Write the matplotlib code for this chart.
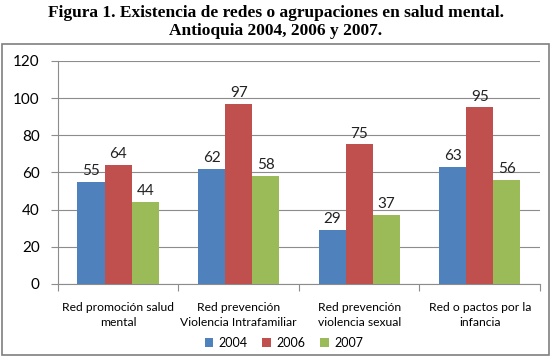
import numpy as np
import matplotlib
matplotlib.use('Agg')
from matplotlib import pyplot as plt
from matplotlib.patches import Rectangle

categorias = ['Red promoción salud\nmental', 'Red prevención\nViolencia Intrafamiliar',
              'Red prevención\nviolencia sexual', 'Red o pactos por la\ninfancia']
anios = ['2004', '2006', '2007']
v2004 = [55, 62, 29, 63]
v2006 = [64, 97, 75, 95]
v2007 = [44, 58, 37, 56]
colores = ['#4F81BD', '#C0504D', '#9BBB59']

plt.rcParams['font.family'] = ['Lato', 'DejaVu Sans']

f = plt.figure(figsize=(5.51, 3.58), dpi=100)
f.patches.append(Rectangle((0.004, 0.008), 0.992, 0.87, transform=f.transFigure,
                           fill=False, edgecolor='#7f7f7f', linewidth=1.2))
f.text(0.5, 0.963, 'Figura 1. Existencia de redes o agrupaciones en salud mental.',
       ha='center', va='center', fontsize=12.5, fontweight='bold', family='Liberation Serif')
f.text(0.5, 0.913, 'Antioquia 2004, 2006 y 2007.',
       ha='center', va='center', fontsize=12.5, fontweight='bold', family='Liberation Serif')

ax = f.add_axes([0.105, 0.207, 0.875, 0.623])
x = np.arange(len(categorias))
w = 0.225
for i, (serie, c) in enumerate(zip([v2004, v2006, v2007], colores)):
    pos = x + (i - 1) * w
    ax.bar(pos, serie, w, color=c, label=anios[i], zorder=3)
    for p, v in zip(pos, serie):
        ax.text(p, v + 2, str(v), ha='center', va='bottom', fontsize=11, color='#222222')

ax.set_xlim(-0.5, 3.5)
ax.set_ylim(0, 120)
ax.set_yticks(range(0, 121, 20))
ax.yaxis.grid(True, color='#8c8c8c', linewidth=0.8, zorder=0)
for s in ['top', 'right']:
    ax.spines[s].set_visible(False)
for s in ['left', 'bottom']:
    ax.spines[s].set_color('#8c8c8c')
ax.tick_params(axis='y', labelsize=11, color='#8c8c8c', length=5, pad=8)
ax.set_xticks(np.arange(-0.5, 4, 1))
ax.set_xticklabels([])
ax.tick_params(axis='x', color='#8c8c8c', length=5)
ax.set_xticks(x, minor=True)
ax.set_xticklabels(categorias, minor=True, fontsize=8.7, linespacing=1.4)
ax.tick_params(axis='x', which='minor', length=0, pad=13)

ax.legend(loc='center', bbox_to_anchor=(0.515, 0.042), bbox_transform=f.transFigure,
          ncol=3, frameon=False, fontsize=9, handlelength=0.7, handleheight=0.7,
          columnspacing=1.2, handletextpad=0.4)

plt.savefig('out.png', dpi=100)
